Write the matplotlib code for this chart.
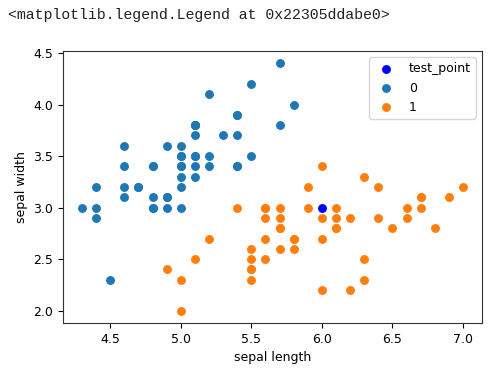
import matplotlib
matplotlib.use('Agg')
import matplotlib.pyplot as plt

# iris, first two classes: sepal length / sepal width
len_0 = [5.1, 4.9, 4.7, 4.6, 5.0, 5.4, 4.6, 5.0, 4.4, 4.9, 5.4, 4.8, 4.8, 4.3, 5.8, 5.7, 5.4,
         5.1, 5.7, 5.1, 5.4, 5.1, 4.6, 5.1, 4.8, 5.0, 5.0, 5.2, 5.2, 4.7, 4.8, 5.4, 5.2, 5.5,
         4.9, 5.0, 5.5, 4.9, 4.4, 5.1, 5.0, 4.5, 4.4, 5.0, 5.1, 4.8, 5.1, 4.6, 5.3, 5.0]
wid_0 = [3.5, 3.0, 3.2, 3.1, 3.6, 3.9, 3.4, 3.4, 2.9, 3.1, 3.7, 3.4, 3.0, 3.0, 4.0, 4.4, 3.9,
         3.5, 3.8, 3.8, 3.4, 3.7, 3.6, 3.3, 3.4, 3.0, 3.4, 3.5, 3.4, 3.2, 3.1, 3.4, 4.1, 4.2,
         3.1, 3.2, 3.5, 3.6, 3.0, 3.4, 3.5, 2.3, 3.2, 3.5, 3.8, 3.0, 3.8, 3.2, 3.7, 3.3]
len_1 = [7.0, 6.4, 6.9, 5.5, 6.5, 5.7, 6.3, 4.9, 6.6, 5.2, 5.0, 5.9, 6.0, 6.1, 5.6, 6.7, 5.6,
         5.8, 6.2, 5.6, 5.9, 6.1, 6.3, 6.1, 6.4, 6.6, 6.8, 6.7, 6.0, 5.7, 5.5, 5.5, 5.8, 6.0,
         5.4, 6.0, 6.7, 6.3, 5.6, 5.5, 5.5, 6.1, 5.8, 5.0, 5.6, 5.7, 5.7, 6.2, 5.1, 5.7]
wid_1 = [3.2, 3.2, 3.1, 2.3, 2.8, 2.8, 3.3, 2.4, 2.9, 2.7, 2.0, 3.0, 2.2, 2.9, 2.9, 3.1, 3.0,
         2.7, 2.2, 2.5, 3.2, 2.8, 2.5, 2.8, 2.9, 3.0, 2.8, 3.0, 2.9, 2.6, 2.4, 2.4, 2.7, 2.7,
         3.0, 3.4, 3.1, 2.3, 3.0, 2.5, 2.6, 3.0, 2.6, 2.3, 2.7, 3.0, 2.9, 2.9, 2.5, 2.8]
test_point = [6.0, 3.0]

fig = plt.figure(figsize=(5.03, 3.68), dpi=100)
ax = fig.add_axes([63 / 503, 1 - 323 / 368, 419 / 503, 272 / 368])

s = 29
ax.scatter(test_point[0], test_point[1], c='b', s=s, label='test_point')
ax.scatter(len_0, wid_0, s=s, label='0')
ax.scatter(len_1, wid_1, s=s, label='1')

ax.set_xlabel('sepal length', fontsize=9)
ax.set_ylabel('sepal width', fontsize=9)
ax.tick_params(labelsize=9)
for sp in ax.spines.values():
    sp.set_color('#333333')
ax.legend(fontsize=9)

# jupyter output line above the figure
fig.text(8 / 503, 1 - 15 / 368, '<matplotlib.legend.Legend at 0x22305ddabe0>',
         family='Liberation Mono', fontsize=10.7, va='center', color='#222222')

fig.savefig('out.png', dpi=100)
